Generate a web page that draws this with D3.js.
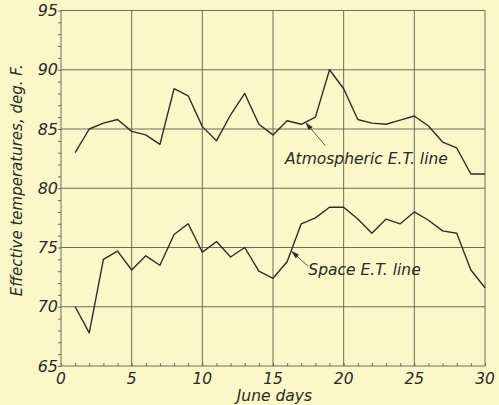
<!DOCTYPE html>
<html>
<head>
<meta charset="utf-8">
<script src="https://cdn.jsdelivr.net/npm/d3@7"></script>
<style>
  body { margin: 0; background: #fcf7c9; }
  svg text { font-family: "DejaVu Sans", sans-serif; font-style: italic; fill: #2a2a22; }
</style>
</head>
<body>
<div id="chart"></div>
<script>
// data
var days = d3.range(1, 31);
var atmospheric = [83.0, 85.0, 85.5, 85.8, 84.8, 84.5, 83.7, 88.4, 87.8, 85.2,
                   84.0, 86.2, 88.0, 85.4, 84.5, 85.7, 85.4, 86.0, 90.0, 88.4,
                   85.8, 85.5, 85.4, 85.75, 86.1, 85.25, 83.9, 83.4, 81.2, 81.2];
var space = [70.0, 67.8, 74.0, 74.7, 73.1, 74.3, 73.5, 76.1, 77.0, 74.6,
             75.5, 74.2, 75.0, 73.0, 72.4, 73.8, 77.0, 77.5, 78.4, 78.4,
             77.4, 76.2, 77.4, 77.0, 78.0, 77.3, 76.4, 76.2, 73.1, 71.6];
var xTicks = [0, 5, 10, 15, 20, 25, 30];
var yTicks = [65, 70, 75, 80, 85, 90, 95];

// set the dimensions and margins of the graph
var margin = {top: 10.5, right: 14, bottom: 39, left: 61},
width = 499 - margin.left - margin.right,
height = 405 - margin.top - margin.bottom;

var svg = d3.select("#chart")
.append("svg")
.attr("width", 499)
.attr("height", 405)
.append("g")
.attr("transform", "translate(" + margin.left + "," + margin.top + ")");

var x = d3.scaleLinear().domain([0, 30]).range([0, width]);
var y = d3.scaleLinear().domain([65, 95]).range([height, 0]);

var ink = "#2e2e24";
var gridInk = "#5f5f48";

// grid
svg.selectAll(".vgrid")
.data(xTicks)
.enter().append("line")
  .attr("x1", function(d) { return x(d); })
  .attr("x2", function(d) { return x(d); })
  .attr("y1", 0).attr("y2", height)
  .attr("stroke", gridInk).attr("stroke-width", 0.9);
svg.selectAll(".hgrid")
.data(yTicks)
.enter().append("line")
  .attr("y1", function(d) { return y(d); })
  .attr("y2", function(d) { return y(d); })
  .attr("x1", 0).attr("x2", width)
  .attr("stroke", gridInk).attr("stroke-width", 0.9);

// minor ticks
svg.append("g")
.attr("transform", "translate(0," + height + ")")
.call(d3.axisTop(x).tickValues(d3.range(0, 31)).tickSize(3).tickFormat(""));
svg.append("g")
.call(d3.axisLeft(y).tickValues(d3.range(65, 96)).tickSize(3).tickFormat(""));
svg.selectAll(".domain").remove();
svg.selectAll(".tick line").attr("stroke", gridInk).attr("stroke-width", 0.9);

// tick labels
svg.selectAll(".xlab")
.data(xTicks)
.enter().append("text")
  .attr("x", function(d) { return x(d); })
  .attr("y", height + 18)
  .attr("text-anchor", "middle")
  .style("font-size", "15.5px")
  .text(function(d) { return d; });
svg.selectAll(".ylab")
.data(yTicks)
.enter().append("text")
  .attr("x", -3)
  .attr("y", function(d) { return y(d) + 5.5; })
  .attr("text-anchor", "end")
  .style("font-size", "16px")
  .text(function(d) { return d; });

// axis titles
svg.append("text")
  .attr("x", x(15.1))
  .attr("y", height + 34.5)
  .attr("text-anchor", "middle")
  .style("font-size", "15.5px")
  .text("June days");
svg.append("text")
  .attr("transform", "translate(-39," + (height / 2 - 8) + ") rotate(-90)")
  .attr("text-anchor", "middle")
  .style("font-size", "15px")
  .text("Effective temperatures, deg. F.");

// lines
var line = d3.line()
.x(function(d, i) { return x(days[i]); })
.y(function(d) { return y(d); });
[atmospheric, space].forEach(function(s) {
  svg.append("path")
    .datum(s)
    .attr("d", line)
    .attr("fill", "none")
    .attr("stroke", ink)
    .attr("stroke-width", 1.4)
    .attr("stroke-linejoin", "round");
});

// annotations
var notes = [
  {text: "Atmospheric E.T. line", tip: [17.3, 85.55], tail: [18.7, 83.6], at: [15.85, 82.05]},
  {text: "Space E.T. line", tip: [16.3, 74.7], tail: [17.5, 73.4], at: [17.5, 72.65]}
];
notes.forEach(function(n) {
  var tx = x(n.tip[0]), ty = y(n.tip[1]);
  var lx = x(n.tail[0]), ly = y(n.tail[1]);
  var ang = Math.atan2(ty - ly, tx - lx);
  svg.append("line")
    .attr("x1", lx).attr("y1", ly).attr("x2", tx).attr("y2", ty)
    .attr("stroke", ink).attr("stroke-width", 0.8);
  var hl = 8, hw = 2.5;
  var bx = tx - hl * Math.cos(ang), by = ty - hl * Math.sin(ang);
  svg.append("path")
    .attr("d", "M" + tx + "," + ty +
      "L" + (bx - hw * Math.sin(ang)) + "," + (by + hw * Math.cos(ang)) +
      "L" + (bx + hw * Math.sin(ang)) + "," + (by - hw * Math.cos(ang)) + "Z")
    .attr("fill", ink);
  svg.append("text")
    .attr("x", x(n.at[0]))
    .attr("y", y(n.at[1]))
    .style("font-size", "15.5px")
    .text(n.text);
});
</script>
</body>
</html>
